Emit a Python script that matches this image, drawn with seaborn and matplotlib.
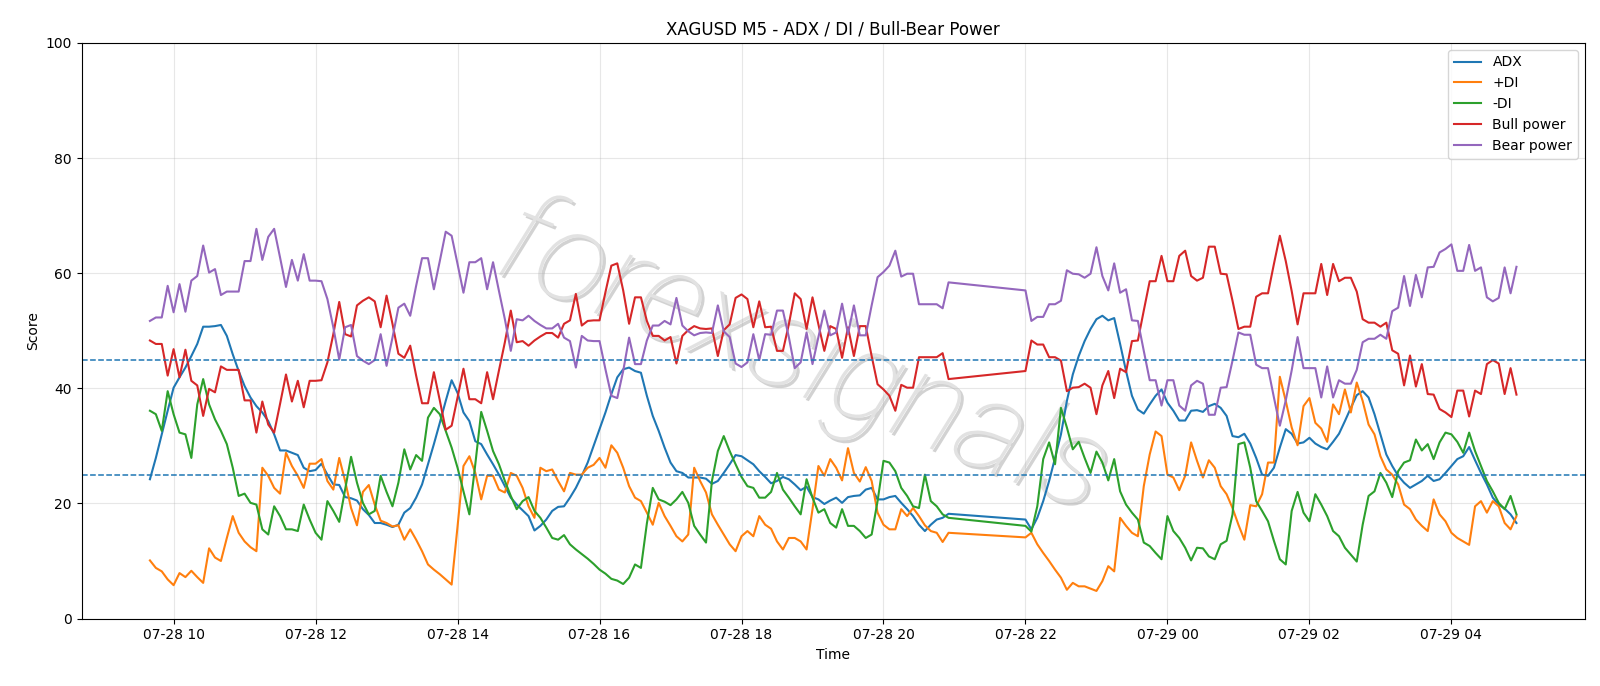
import pandas as pd
import seaborn as sns
import matplotlib.pyplot as plt
import matplotlib.dates as mdates
import matplotlib.patheffects as pe

# XAGUSD M5 bars, no quotes between 21:00 and 22:00
times_day = pd.date_range("2025-07-28 09:40", "2025-07-28 20:55", freq="5min")
times_night = pd.date_range("2025-07-28 22:00", "2025-07-29 04:55", freq="5min")
times = times_day.append(times_night)

adx = [
    24.2, 27.9, 32.0, 36.1, 40.1, 41.9, 43.6, 45.6, 47.7, 50.7, 50.7, 50.8, 51.0, 49.1, 45.9, 43.0, 40.4, 38.4, 36.9, 35.8, 34.3,
    32.0, 29.2, 29.2, 28.8, 28.4, 26.2, 25.6, 25.8, 26.9, 25.0, 23.3, 23.2, 21.1, 20.9, 20.5, 19.0, 18.0, 16.6, 16.6, 16.3, 15.9,
    16.3, 18.4, 19.2, 21.0, 23.3, 26.8, 30.3, 34.0, 37.8, 41.4, 39.2, 35.8, 34.3, 30.8, 30.3, 28.5, 26.8, 25.0, 23.0, 21.0, 19.8,
    18.8, 17.8, 15.3, 16.1, 17.2, 18.7, 19.4, 19.5, 21.0, 22.7, 24.8, 27.1, 30.0, 32.9, 35.8, 39.0, 41.9, 43.3, 43.6, 43.0, 42.7,
    38.7, 35.2, 32.6, 29.7, 27.1, 25.6, 25.3, 24.5, 24.5, 24.5, 24.3, 23.4, 23.9, 25.3, 26.8, 28.4, 28.2, 27.5, 26.8, 25.6, 24.6, 23.5,
    23.9, 24.6, 24.2, 23.3, 22.3, 22.9, 21.1, 20.7, 19.9, 20.5, 21.0, 20.1, 21.1, 21.3, 21.4, 22.4, 22.7, 20.7, 20.7, 21.1,
    21.3, 20.1, 19.0, 17.8, 16.3, 15.2, 16.3, 17.2, 17.5, 18.2,
    17.2, 15.5, 17.5, 20.4, 23.9, 27.9, 32.0, 37.8, 42.4, 45.6, 48.2, 50.3, 52.0, 52.6, 51.8, 52.2, 47.7, 43.0, 38.7, 36.3, 35.6,
    37.2, 38.7, 39.8, 37.5, 36.1, 34.4, 34.4, 36.1, 36.2, 35.9, 36.9, 37.3, 36.6, 35.2, 31.7, 31.5, 32.1, 30.4, 27.9, 25.0, 24.8,
    26.2, 29.7, 32.9, 32.1, 30.4, 30.6, 31.4, 30.4, 29.8, 29.4, 30.7, 32.1, 34.3, 36.6, 38.8, 39.5, 38.4, 35.5, 32.0, 28.5, 26.5,
    24.8, 23.6, 22.7, 23.3, 23.9, 24.8, 23.9, 24.2, 25.3, 26.5, 27.7, 28.2, 29.8, 27.5, 25.3, 23.3, 21.0, 19.8, 19.1, 18.1, 16.6,
]

plus_di = [
    10.1, 8.8, 8.2, 6.8, 5.8, 7.9, 7.2, 8.3, 7.2, 6.2, 12.2, 10.6, 10.0, 14.0, 17.8, 14.9, 13.4, 12.4, 11.7, 26.2, 24.8,
    22.7, 21.7, 28.8, 26.5, 24.8, 22.7, 26.9, 26.9, 27.7, 23.9, 22.4, 27.9, 23.9, 19.2, 16.2, 22.0, 23.2, 19.8, 17.0, 16.6, 16.0,
    16.2, 13.7, 15.5, 13.7, 11.7, 9.4, 8.5, 7.7, 6.8, 5.9, 16.0, 26.5, 28.2, 25.3, 20.7, 24.8, 24.8, 22.4, 21.9, 25.3, 24.8,
    22.7, 19.5, 17.5, 26.2, 25.6, 25.9, 23.9, 22.1, 25.3, 25.0, 25.0, 26.2, 26.7, 27.9, 26.2, 30.1, 28.8, 26.2, 23.0, 21.0, 20.4,
    18.4, 16.3, 20.1, 17.8, 16.1, 14.3, 13.4, 14.6, 26.2, 23.9, 21.9, 18.1, 16.3, 14.6, 12.9, 11.7, 14.3, 15.2, 14.3, 17.8, 16.3, 15.6,
    13.4, 12.0, 14.0, 14.0, 13.4, 12.0, 19.0, 26.5, 24.8, 27.7, 26.2, 24.0, 29.6, 25.3, 23.8, 26.3, 23.9, 18.4, 16.3, 15.5,
    15.5, 19.0, 17.8, 19.2, 17.8, 16.2, 15.2, 14.9, 13.3, 14.9,
    14.1, 14.9, 12.9, 11.4, 10.0, 8.5, 7.1, 5.0, 6.2, 5.6, 5.6, 5.2, 4.8, 6.5, 9.1, 8.2, 17.5, 16.1, 14.9, 14.3, 23.0,
    28.5, 32.5, 31.7, 25.0, 24.5, 22.3, 24.8, 30.6, 27.4, 24.5, 27.5, 26.2, 23.0, 21.6, 19.2, 16.3, 13.7, 19.7, 19.5, 21.6, 27.1,
    27.1, 42.0, 37.8, 33.2, 30.1, 36.9, 38.3, 34.0, 33.0, 30.7, 37.2, 35.5, 39.8, 35.8, 41.0, 37.8, 33.7, 32.0, 28.2, 25.9, 25.0,
    23.3, 19.8, 19.0, 17.2, 16.1, 15.2, 20.7, 18.1, 16.9, 14.9, 14.0, 13.4, 12.8, 19.5, 20.4, 18.4, 20.4, 19.5, 16.6, 15.5, 17.8,
]

minus_di = [
    36.1, 35.5, 32.6, 39.5, 35.5, 32.3, 32.0, 27.9, 37.2, 41.6, 37.2, 34.6, 32.6, 30.3, 26.2, 21.3, 21.7, 20.1, 19.8, 15.5, 14.6,
    19.5, 17.8, 15.5, 15.5, 15.2, 19.8, 17.2, 14.9, 13.7, 20.4, 18.7, 16.8, 22.4, 28.1, 23.6, 20.1, 18.1, 18.7, 24.8, 22.0, 19.5,
    23.6, 29.4, 25.9, 28.4, 27.4, 34.9, 36.6, 35.5, 32.6, 29.7, 26.2, 22.1, 18.1, 26.8, 35.9, 32.6, 29.1, 26.8, 23.9, 21.3, 19.0,
    20.4, 21.1, 18.7, 17.5, 15.8, 14.0, 13.7, 14.5, 12.9, 12.0, 11.2, 10.4, 9.5, 8.5, 7.8, 6.9, 6.6, 6.0, 7.1, 9.4, 8.8,
    16.5, 22.7, 20.7, 20.3, 19.7, 20.7, 22.0, 20.1, 16.1, 14.6, 13.2, 23.9, 29.1, 31.7, 29.1, 26.8, 24.6, 23.0, 22.7, 21.0, 21.0, 22.0,
    25.3, 22.4, 21.0, 19.5, 18.1, 24.2, 21.0, 18.4, 19.0, 16.6, 15.8, 19.0, 16.1, 16.1, 15.2, 14.0, 14.6, 20.4, 27.4, 27.1,
    25.6, 22.7, 21.3, 19.5, 19.2, 25.0, 20.4, 19.5, 18.1, 17.5,
    16.1, 15.1, 19.5, 27.7, 30.6, 26.8, 36.6, 33.2, 29.4, 30.7, 27.9, 25.3, 29.0, 27.1, 24.0, 27.7, 22.1, 19.8, 18.4, 17.2, 13.2,
    12.6, 11.4, 10.3, 17.8, 15.2, 14.0, 12.3, 10.1, 12.3, 12.2, 10.8, 10.3, 12.9, 13.5, 18.1, 30.3, 30.6, 26.2, 20.4, 18.7, 16.9,
    13.5, 10.3, 9.4, 18.7, 22.0, 18.4, 16.9, 21.6, 19.8, 17.8, 15.2, 14.3, 12.3, 11.1, 9.9, 16.3, 21.3, 22.1, 25.3, 23.6, 21.1,
    25.6, 27.1, 27.5, 31.1, 29.2, 30.3, 27.7, 30.6, 32.3, 32.0, 30.7, 28.8, 32.3, 29.1, 26.5, 23.9, 22.1, 20.1, 19.0, 21.3, 18.1,
]

bull_power = [
    48.3, 47.7, 47.7, 42.2, 46.8, 41.9, 46.7, 41.3, 40.5, 35.2, 39.9, 39.3, 43.8, 43.2, 43.2, 43.2, 37.9, 37.9, 32.3, 37.7, 33.7,
    32.3, 37.3, 42.4, 37.7, 41.3, 36.7, 41.3, 41.3, 41.4, 44.5, 49.4, 55.0, 49.4, 49.0, 54.4, 55.2, 55.8, 55.1, 50.6, 56.1, 51.2,
    46.0, 45.3, 47.4, 42.2, 37.4, 37.4, 42.8, 37.9, 32.8, 33.5, 38.4, 43.4, 38.1, 38.1, 37.4, 42.8, 38.1, 43.1, 48.0, 53.5, 48.0,
    48.2, 47.4, 48.3, 49.0, 49.6, 49.6, 48.8, 51.2, 51.8, 56.4, 50.9, 51.7, 51.8, 51.8, 56.7, 61.3, 61.7, 57.0, 51.2, 55.8, 55.8,
    51.7, 49.1, 49.1, 48.3, 48.9, 44.3, 49.1, 50.1, 50.8, 50.4, 50.3, 50.4, 45.6, 50.1, 51.1, 55.7, 56.3, 55.5, 50.6, 55.1, 50.6, 50.7,
    46.5, 46.5, 51.1, 56.5, 55.5, 50.3, 55.8, 51.1, 46.5, 50.8, 50.3, 45.3, 50.6, 45.6, 50.8, 50.8, 45.6, 40.7, 39.8, 38.7,
    36.1, 40.6, 40.1, 40.1, 45.4, 45.4, 45.4, 45.4, 46.1, 41.6,
    43.0, 48.3, 47.6, 47.6, 45.4, 45.4, 44.8, 39.5, 40.1, 40.2, 40.8, 40.1, 35.5, 40.5, 43.0, 38.3, 43.4, 42.8, 48.2, 48.3, 53.5,
    58.6, 58.6, 63.0, 58.6, 58.6, 63.0, 63.9, 59.5, 58.7, 59.2, 64.6, 64.6, 59.9, 59.8, 55.2, 50.3, 50.7, 50.7, 55.9, 56.5, 56.5,
    61.6, 66.5, 62.1, 56.9, 51.1, 56.5, 56.5, 56.5, 61.6, 56.2, 61.6, 58.6, 59.2, 59.2, 56.8, 52.0, 51.4, 51.4, 50.7, 51.4, 46.6,
    46.0, 40.5, 45.7, 40.3, 44.2, 39.0, 38.9, 36.4, 35.8, 35.0, 39.6, 39.6, 35.1, 39.6, 39.0, 44.2, 44.9, 44.3, 39.0, 43.5, 38.9,
]

bear_power = [
    51.7, 52.3, 52.3, 57.8, 53.2, 58.1, 53.3, 58.7, 59.5, 64.8, 60.1, 60.7, 56.2, 56.8, 56.8, 56.8, 62.1, 62.1, 67.7, 62.3, 66.3,
    67.7, 62.7, 57.6, 62.3, 58.7, 63.3, 58.7, 58.7, 58.6, 55.5, 50.6, 45.0, 50.6, 51.0, 45.6, 44.8, 44.2, 44.9, 49.4, 43.9, 48.8,
    54.0, 54.7, 52.6, 57.8, 62.6, 62.6, 57.2, 62.1, 67.2, 66.5, 61.6, 56.6, 61.9, 61.9, 62.6, 57.2, 61.9, 56.9, 52.0, 46.5, 52.0,
    51.8, 52.6, 51.7, 51.0, 50.4, 50.4, 51.2, 48.8, 48.2, 43.6, 49.1, 48.3, 48.2, 48.2, 43.3, 38.7, 38.3, 43.0, 48.8, 44.2, 44.2,
    48.3, 50.9, 50.9, 51.7, 51.1, 55.7, 50.9, 49.9, 49.2, 49.6, 49.7, 49.6, 54.4, 49.9, 48.9, 44.3, 43.7, 44.5, 49.4, 44.9, 49.4, 49.3,
    53.5, 53.5, 48.9, 43.5, 44.5, 49.7, 44.2, 48.9, 53.5, 49.2, 49.7, 54.7, 49.4, 54.4, 49.2, 49.2, 54.4, 59.3, 60.2, 61.3,
    63.9, 59.4, 59.9, 59.9, 54.6, 54.6, 54.6, 54.6, 53.9, 58.4,
    57.0, 51.7, 52.4, 52.4, 54.6, 54.6, 55.2, 60.5, 59.9, 59.8, 59.2, 59.9, 64.5, 59.5, 57.0, 61.7, 56.6, 57.2, 51.8, 51.7, 46.5,
    41.4, 41.4, 37.0, 41.4, 41.4, 37.0, 36.1, 40.5, 41.3, 40.8, 35.4, 35.4, 40.1, 40.2, 44.8, 49.7, 49.3, 49.3, 44.1, 43.5, 43.5,
    38.4, 33.5, 37.9, 43.1, 48.9, 43.5, 43.5, 43.5, 38.4, 43.8, 38.4, 41.4, 40.8, 40.8, 43.2, 48.0, 48.6, 48.6, 49.3, 48.6, 53.4,
    54.0, 59.5, 54.3, 59.7, 55.8, 61.0, 61.1, 63.6, 64.2, 65.0, 60.4, 60.4, 64.9, 60.4, 61.0, 55.8, 55.1, 55.7, 61.0, 56.5, 61.1,
]

df = pd.DataFrame({
    "Time": times,
    "ADX": adx,
    "+DI": plus_di,
    "-DI": minus_di,
    "Bull power": bull_power,
    "Bear power": bear_power,
})

# %%
fig, ax = plt.subplots(figsize=(16, 6.86), dpi=100)

colors = sns.color_palette("tab10", 5)
for col, c in zip(["ADX", "+DI", "-DI", "Bull power", "Bear power"], colors):
    sns.lineplot(data=df, x="Time", y=col, label=col, color=c, linewidth=1.5, ax=ax)

# ADX trend thresholds
ax.axhline(25, linestyle="--", linewidth=1.1, color=colors[0])
ax.axhline(45, linestyle="--", linewidth=1.1, color=colors[0])

# watermark
ax.text(0.48, 0.45, "forexsignals", transform=ax.transAxes, fontsize=92,
        family=["Roboto", "DejaVu Sans"], fontweight="light", style="italic",
        color="#e2e2e2", rotation=-22, ha="center", va="center", zorder=1,
        path_effects=[pe.SimplePatchShadow(offset=(2, -2), shadow_rgbFace="0.5", alpha=0.35), pe.Normal()])

ax.set_ylim(0, 100)
ax.xaxis.set_major_locator(mdates.HourLocator(byhour=range(0, 24, 2)))
ax.xaxis.set_major_formatter(mdates.DateFormatter("%m-%d %H"))
ax.grid(True, alpha=0.3)
ax.set_title("XAGUSD M5 - ADX / DI / Bull-Bear Power")
ax.set_xlabel("Time")
ax.set_ylabel("Score")
ax.legend(loc="upper right")

plt.subplots_adjust(left=0.051, right=0.9905, top=0.9375, bottom=0.0983)
plt.savefig("out.png", dpi=100)
